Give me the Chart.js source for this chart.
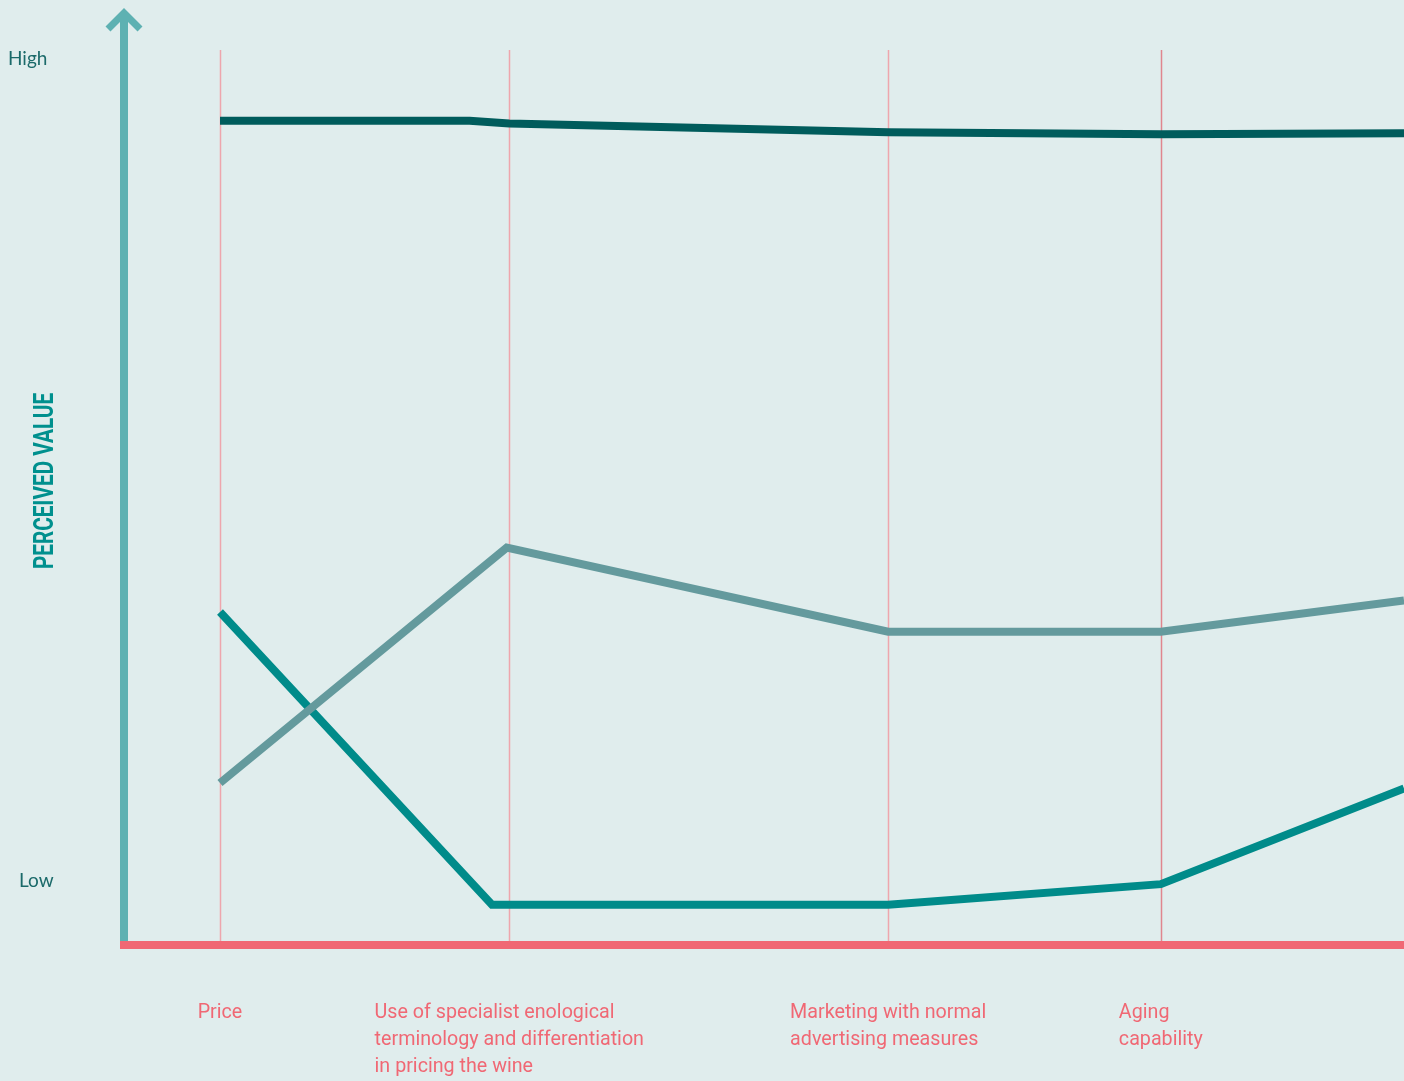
<!DOCTYPE html>
<html>
<head>
<meta charset="utf-8">
<script src="https://cdn.jsdelivr.net/npm/chart.js@4/dist/chart.umd.min.js"></script>
<style>
  html, body { margin: 0; padding: 0; background: #e0eded; }
  #wrap { width: 1404px; height: 1081px; }
</style>
</head>
<body>
<div id="wrap"><canvas id="chart" width="1404" height="1081"></canvas></div>
<script>
// categories along the bottom (position on the 0-100 x scale)
const categories = [
    ['Price'],
    ['Use of specialist enological', 'terminology and differentiation', 'in pricing the wine'],
    ['Marketing with normal', 'advertising measures'],
    ['Aging', 'capability']
];
const categoryPos = [7.5, 30.1, 59.7, 81.0];

// y ticks (0-100 scale)
const yLabels = ['High', 'Low'];
const yLabelPos = [99, 7.2];
const axisTitle = 'PERCEIVED VALUE';

// series
const darkX = [7.5, 27.0, 30.1, 59.7, 81.0, 100];
const darkY = [92.1, 92.1, 91.8, 90.8, 90.6, 90.7];
const greyX = [7.5, 29.9, 59.7, 81.0, 100];
const greyY = [18.1, 44.4, 35.0, 35.0, 38.5];
const tealX = [7.5, 28.75, 59.7, 81.0, 100];
const tealY = [37.2, 4.5, 4.5, 6.8, 17.5];

const toPoints = (xs, ys) => xs.map((x, i) => ({ x: x, y: ys[i] }));

const decor = {
    id: 'decor',
    beforeDatasetsDraw(c) {
        const ctx = c.ctx;
        const x = c.scales.x;
        const area = c.chartArea;
        ctx.save();
        // pink guides
        ctx.lineWidth = 1.5;
        categoryPos.forEach((v, i) => {
            const px = Math.round(x.getPixelForValue(v)) + 0.5;
            ctx.strokeStyle = i === 3 ? '#e0868e' : '#eea6ad';
            ctx.beginPath();
            ctx.moveTo(px, area.top);
            ctx.lineTo(px, area.bottom);
            ctx.stroke();
        });
        ctx.restore();
    },
    afterDatasetsDraw(c) {
        const ctx = c.ctx;
        const x = c.scales.x, y = c.scales.y;
        const area = c.chartArea;
        ctx.save();
        // y axis arrow
        const ax = area.left;
        ctx.strokeStyle = '#5eb1b2';
        ctx.lineWidth = 8;
        ctx.lineCap = 'butt';
        ctx.beginPath();
        ctx.moveTo(ax, area.bottom);
        ctx.lineTo(ax, 12);
        ctx.stroke();
        ctx.lineWidth = 7;
        ctx.lineJoin = 'miter';
        ctx.beginPath();
        ctx.moveTo(ax - 16, 29);
        ctx.lineTo(ax, 13);
        ctx.lineTo(ax + 16, 29);
        ctx.stroke();
        // x axis
        ctx.strokeStyle = '#f06874';
        ctx.lineWidth = 8;
        ctx.beginPath();
        ctx.moveTo(ax - 4, area.bottom);
        ctx.lineTo(area.right, area.bottom);
        ctx.stroke();

        // High / Low
        ctx.fillStyle = '#1b6a6a';
        ctx.font = '19px Lato, "Liberation Sans", sans-serif';
        ctx.textBaseline = 'middle';
        ctx.textAlign = 'left';
        ctx.fillText(yLabels[0], 8, y.getPixelForValue(yLabelPos[0]));
        ctx.fillText(yLabels[1], 19, y.getPixelForValue(yLabelPos[1]));

        // axis title, condensed
        ctx.save();
        ctx.translate(46, 481);
        ctx.rotate(-Math.PI / 2);
        ctx.scale(0.74, 1);
        ctx.fillStyle = '#00908e';
        ctx.font = 'bold 28px Roboto, sans-serif';
        ctx.textAlign = 'center';
        ctx.fillText(axisTitle, 0, 0);
        ctx.restore();

        // category labels: block centred on the guide, lines left-aligned
        ctx.fillStyle = '#f06874';
        ctx.font = '19.7px Roboto, sans-serif';
        ctx.textAlign = 'left';
        categories.forEach((lines, i) => {
            const w = Math.max(...lines.map(l => ctx.measureText(l).width));
            const left = x.getPixelForValue(categoryPos[i]) - w / 2;
            lines.forEach((l, j) => ctx.fillText(l, left, 1013 + j * 27));
        });
        ctx.restore();
    }
};

new Chart(document.getElementById('chart'), {
    type: 'line',
    data: {
        datasets: [
            { data: toPoints(greyX, greyY), borderColor: '#649a9d', borderWidth: 8 },
            { data: toPoints(tealX, tealY), borderColor: '#008b8a', borderWidth: 8 },
            { data: toPoints(darkX, darkY), borderColor: '#005c5c', borderWidth: 8 }
        ]
    },
    options: {
        responsive: false,
        animation: false,
        layout: { padding: { left: 124, right: 0, top: 50, bottom: 136 } },
        elements: { point: { radius: 0 }, line: { tension: 0, borderJoinStyle: 'miter' } },
        plugins: { legend: { display: false }, tooltip: { enabled: false } },
        scales: {
            x: { type: 'linear', min: 0, max: 100, display: false },
            y: { type: 'linear', min: 0, max: 100, display: false }
        }
    },
    plugins: [decor]
});
</script>
</body>
</html>
